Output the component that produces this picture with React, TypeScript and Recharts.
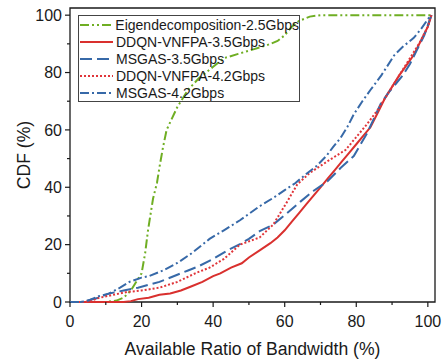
import { LineChart, Line, XAxis, YAxis, Legend, ReferenceArea } from "recharts";

// each series: [available ratio %, CDF %]
const eigen25: [number, number][] = [
  [0, 0], [10, 0], [13, 0.5], [15, 1.5], [17, 4], [19, 8], [20, 10], [21, 17], [21.8, 25],
  [23.2, 36], [24.3, 41.5], [25, 47], [26, 54], [27, 60], [28.5, 64], [30, 68], [33, 74],
  [36, 78], [40, 82], [43, 85], [47, 86.5], [51, 88], [55, 89.5], [58, 91], [60, 93],
  [62, 96], [64, 98], [67, 99.5], [70, 100], [101, 100],
];
const ddqn35: [number, number][] = [
  [0, 0], [15, 0], [17, 0.3], [19, 1], [22, 1.5], [25, 2.5], [28, 3], [31, 4], [34, 5.5],
  [37, 7], [40, 9], [42, 10], [45, 12], [48, 13.5], [50, 15.5], [53, 18], [56, 20.5],
  [58, 22.5], [60, 25], [62, 28], [64, 31], [66, 34], [68, 37], [70, 40], [72, 43],
  [74, 46], [76, 49], [78, 52], [80, 55], [82, 58], [84, 61], [86, 66], [88, 71], [90, 75],
  [92, 79], [94, 82.5], [96, 86], [98, 91], [100, 96], [101, 100],
];
const msgas35: [number, number][] = [
  [0, 0], [3, 0], [5, 0.5], [8, 1.5], [11, 3], [15, 4], [19, 5], [22, 6], [25, 7], [30, 9.5],
  [33, 11], [36, 12.5], [40, 15], [44, 18], [47.5, 20.2], [50, 22], [53, 24.7], [56.8, 27],
  [60.7, 31], [64.4, 35], [68, 38.7], [71.9, 42], [75.6, 46.7], [79.3, 50.9], [83, 58.8],
  [86.8, 69], [89, 73], [91, 76], [93, 79], [95, 83], [97, 88], [99, 93], [101, 100],
];
const ddqn42: [number, number][] = [
  [0, 0], [4, 0], [6, 0.5], [8, 1.4], [12, 2.5], [16, 3.5], [20, 4], [25, 5], [30, 7],
  [35, 10], [39, 12], [43, 15], [47.5, 20], [53, 22.5], [56.8, 27], [60.7, 35], [63.5, 41],
  [67, 45], [72.5, 49.5], [77, 53], [80, 57.5], [83, 62], [86, 67], [88, 71], [90, 75],
  [92, 79], [94, 83], [96, 87], [98, 91], [100, 96], [101, 100],
];
const msgas42: [number, number][] = [
  [0, 0], [3, 0], [5, 0.5], [8, 2], [11, 3], [14, 5], [16.6, 7], [20, 8.5], [22, 9], [26, 11],
  [30, 13.6], [34, 17], [39, 22], [43, 25], [47.5, 28.5], [53, 33.4], [56.8, 36.3], [60, 39],
  [63, 41.5], [66, 44.6], [69, 47.5], [71.7, 51], [73.5, 54], [75.5, 57], [77.5, 61],
  [79.3, 65.4], [81.7, 70], [84, 74], [87, 79], [90.6, 86], [93, 89], [96, 92], [98, 95],
  [100, 98.6], [101, 100],
];

const xTicks = [0, 10, 20, 30, 40, 50, 60, 70, 80, 90, 100];
const yTicks = [0, 10, 20, 30, 40, 50, 60, 70, 80, 90, 100];

const font = "'Liberation Sans', Arial, sans-serif";
const ink = "#1a1a1a";

const series = [
  { name: "Eigendecomposition-2.5Gbps", data: eigen25, color: "#6fae23", dash: "9 3 2 3 2 3", width: 2 },
  { name: "DDQN-VNFPA-3.5Gbps", data: ddqn35, color: "#d9302e", dash: undefined, width: 2 },
  { name: "MSGAS-3.5Gbps", data: msgas35, color: "#3769a8", dash: "12 5", width: 2 },
  { name: "DDQN-VNFPA-4.2Gbps", data: ddqn42, color: "#e0353a", dash: "2 2", width: 2 },
  { name: "MSGAS-4.2Gbps", data: msgas42, color: "#3769a8", dash: "9 3 2 3", width: 2 },
];

const toPoints = (arr: [number, number][]) => arr.map(([x, y]) => ({ x, y }));

function XTick(props: any) {
  const { x, y, payload } = props;
  const major = payload.value % 20 === 0;
  return (
    <g>
      <line x1={x} x2={x} y1={y} y2={y + (major ? 5 : 3)} stroke={ink} strokeWidth={1.2} />
      {major && (
        <text x={x} y={y + 25} textAnchor="middle" fontSize={16} fontFamily={font} fill={ink}>
          {payload.value}
        </text>
      )}
    </g>
  );
}

function YTick(props: any) {
  const { x, y, payload } = props;
  const major = payload.value % 20 === 0;
  return (
    <g>
      <line x1={x - (major ? 5 : 3)} x2={x} y1={y} y2={y} stroke={ink} strokeWidth={1.2} />
      {major && (
        <text x={x - 8} y={y + 5.8} textAnchor="end" fontSize={16} fontFamily={font} fill={ink}>
          {payload.value}
        </text>
      )}
    </g>
  );
}

function LegendBox() {
  return (
    <div
      style={{
        border: "1px solid #444",
        width: 220,
        fontFamily: font,
        fontSize: 14,
        color: ink,
      }}
    >
      {series.map((s) => (
        <div key={s.name} style={{ display: "flex", alignItems: "center", height: 17, whiteSpace: "nowrap" }}>
          <svg width={33} height={10} style={{ marginLeft: 1, marginRight: 3 }}>
            <line x1={0} x2={33} y1={5} y2={5} stroke={s.color} strokeWidth={s.width} strokeDasharray={s.dash} />
          </svg>
          <span>{s.name}</span>
        </div>
      ))}
    </div>
  );
}

export default function App() {
  return (
    <div style={{ position: "absolute", left: 0, top: 0, background: "#fff" }}>
      <LineChart width={443} height={362} margin={{ top: 8, right: 8, bottom: 0, left: 0 }}>
        <ReferenceArea
          x1={0}
          x2={102}
          y1={0}
          y2={102.5}
          fill="none"
          stroke={ink}
          strokeWidth={1.3}
          ifOverflow="visible"
        />
        <XAxis
          dataKey="x"
          type="number"
          domain={[0, 102]}
          ticks={xTicks}
          interval={0}
          height={60}
          tickSize={0}
          tickMargin={0}
          tick={<XTick />}
          axisLine={false}
          tickLine={false}
          label={{
            value: "Available Ratio of Bandwidth (%)",
            position: "insideBottom",
            offset: 7,
            style: { fontSize: 17.6, fontFamily: font, fill: ink },
          }}
        />
        <YAxis
          type="number"
          domain={[0, 102.5]}
          ticks={yTicks}
          interval={0}
          width={70}
          tickSize={0}
          tickMargin={0}
          tick={<YTick />}
          axisLine={false}
          tickLine={false}
          label={{
            value: "CDF (%)",
            angle: -90,
            position: "insideLeft",
            offset: 24,
            style: { fontSize: 17.6, fontFamily: font, fill: ink, textAnchor: "middle" },
          }}
        />
        <Legend
          layout="vertical"
          align="center"
          verticalAlign="middle"
          wrapperStyle={{ left: 78, top: 15, width: 222 }}
          content={() => <LegendBox />}
        />
        {series.map((s) => (
          <Line
            key={s.name}
            name={s.name}
            data={toPoints(s.data)}
            dataKey="y"
            type="linear"
            stroke={s.color}
            strokeWidth={s.width}
            strokeDasharray={s.dash}
            dot={false}
            activeDot={false}
            isAnimationActive={false}
          />
        ))}
      </LineChart>
    </div>
  );
}
